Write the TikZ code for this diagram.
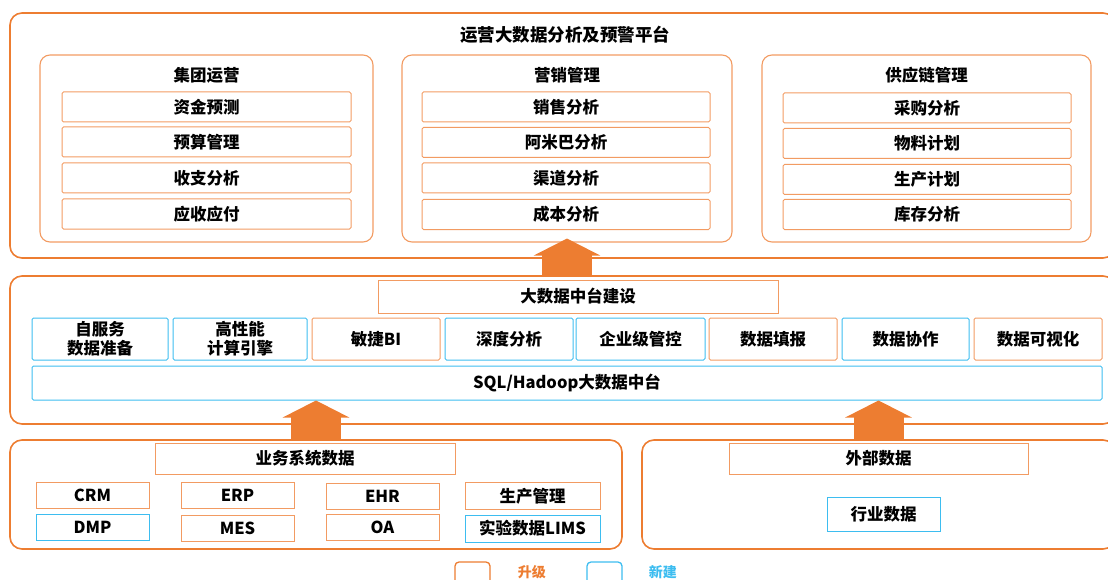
\documentclass[tikz,border=0pt]{standalone}
\usepackage{fontspec}
\setmainfont{Noto Sans CJK SC}
\usepackage{xcolor}
\usepackage{tikz}
\usetikzlibrary{arrows.meta, positioning, calc}
\definecolor{hborange}{HTML}{ED7D31}
\definecolor{lorange}{HTML}{F29B62}
\definecolor{nblue}{HTML}{3DBDF0}

\tikzset{
    layer/.style={draw=hborange, line width=1.6pt, rounded corners=12pt, inner sep=0pt},
    groupbox/.style={draw=lorange, line width=1.1pt, rounded corners=10pt, inner sep=0pt},
    obox/.style={draw=lorange, line width=1pt, rounded corners=1.5pt, inner sep=0pt,
        align=center, font=\bfseries\fontsize{16.5}{19}\selectfont},
    nbox/.style={obox, draw=nblue},
    heading/.style={font=\bfseries\fontsize{16.5}{19}\selectfont, inner sep=0pt},
    fatup/.style={draw=hborange, line width=50pt, -{Triangle[length=17pt, width=66pt, fill=hborange]}}
}

\begin{document}
\begin{tikzpicture}[x=1pt, y=-1pt]
    \clip (0,0) rectangle (1108,580);

    \node[layer, minimum width=1105, minimum height=245] (platform) at (562.5,135.5) {};
    \node[heading, font=\bfseries\fontsize{17.5}{20}\selectfont] (ptitle) at (565,35) {运营大数据分析及预警平台};

    \node[groupbox, minimum width=333, minimum height=187] (gjt) at (206.5,148.5) {};
    \node[groupbox, minimum width=330, minimum height=187] (gyx) at (567,148.5) {};
    \node[groupbox, minimum width=329, minimum height=187] (ggy) at (926.5,148.5) {};

    \node[heading] (hjt) at (206.5,75) {集团运营};
    \node[heading] (hyx) at (567,75) {营销管理};
    \node[heading] (hgy) at (926.5,75) {供应链管理};

    \node[obox, minimum width=289, minimum height=30] (zjyc) at (206.5,107) {资金预测};
    \node[obox, minimum width=289, minimum height=30] (ysgl) at (206.5,142) {预算管理};
    \node[obox, minimum width=289, minimum height=30] (szfx) at (206.5,178) {收支分析};
    \node[obox, minimum width=289, minimum height=30] (yscf) at (206.5,214) {应收应付};

    \node[obox, minimum width=288, minimum height=30] (xsfx) at (566,107) {销售分析};
    \node[obox, minimum width=288, minimum height=30] (ambfx) at (566,142.5) {阿米巴分析};
    \node[obox, minimum width=288, minimum height=30] (qdfx) at (566,178) {渠道分析};
    \node[obox, minimum width=288, minimum height=30] (cbfx) at (566,214.5) {成本分析};

    \node[obox, minimum width=288, minimum height=30] (cgfx) at (927,108) {采购分析};
    \node[obox, minimum width=288, minimum height=30] (wljh) at (927,143.5) {物料计划};
    \node[obox, minimum width=288, minimum height=30] (scjh) at (927,179.5) {生产计划};
    \node[obox, minimum width=288, minimum height=30] (kcfx) at (927,214.5) {库存分析};

    \node[layer, minimum width=1105, minimum height=148] (midlayer) at (562.5,350) {};
    \node[obox, rounded corners=0pt, minimum width=400, minimum height=33] (zt) at (578,296.5) {大数据中台建设};

    \node[nbox, minimum width=136, minimum height=42] (zfw) at (100,339) {自服务\\数据准备};
    \node[nbox, minimum width=134, minimum height=42] (gxn) at (240,339) {高性能\\计算引擎};
    \node[obox, minimum width=128, minimum height=42] (mjbi) at (376,339) {敏捷BI};
    \node[nbox, minimum width=128, minimum height=42] (sdfx) at (509,339) {深度分析};
    \node[nbox, minimum width=129, minimum height=42] (qyjgk) at (640.5,339) {企业级管控};
    \node[obox, minimum width=128, minimum height=42] (sjtb) at (773,339) {数据填报};
    \node[nbox, minimum width=127, minimum height=42] (sjxz) at (905.5,339) {数据协作};
    \node[obox, minimum width=128, minimum height=42] (sjksh) at (1038,339) {数据可视化};

    \node[nbox, minimum width=1070, minimum height=34] (sql) at (567,383) {SQL/Hadoop大数据中台};

    \node[layer, minimum width=612, minimum height=109] (bizdata) at (316,494.5) {};
    \node[layer, minimum width=473, minimum height=109] (extdata) at (878.5,494.5) {};

    \node[obox, rounded corners=0pt, minimum width=300, minimum height=31] (ywxt) at (305,458.5) {业务系统数据};
    \node[obox, rounded corners=0pt, minimum width=299, minimum height=31] (wbsj) at (878.5,458.5) {外部数据};

    \node[obox, rounded corners=0pt, minimum width=113, minimum height=26] (crm) at (92.5,495) {CRM};
    \node[obox, rounded corners=0pt, minimum width=113, minimum height=26] (erp) at (237.5,495) {ERP};
    \node[obox, rounded corners=0pt, minimum width=113, minimum height=26] (ehr) at (382.5,496) {EHR};
    \node[obox, rounded corners=0pt, minimum width=135, minimum height=27] (scgl) at (532.5,496) {生产管理};
    \node[nbox, rounded corners=0pt, minimum width=113, minimum height=26] (dmp) at (92.5,527) {DMP};
    \node[obox, rounded corners=0pt, minimum width=113, minimum height=26] (mes) at (237.5,528) {MES};
    \node[obox, rounded corners=0pt, minimum width=113, minimum height=26] (oa) at (382.5,527) {OA};
    \node[nbox, rounded corners=0pt, minimum width=135, minimum height=27] (lims) at (532.5,528.5) {实验数据LIMS};

    \node[nbox, rounded corners=0pt, minimum width=113, minimum height=34] (hysj) at (883.5,514) {行业数据};

    \draw[fatup] (midlayer.north -| gyx.south) -- ($(gyx.south)+(0,-4)$);
    \draw[fatup] (bizdata.north) -- (bizdata.north |- sql.south);
    \draw[fatup] (extdata.north) -- (extdata.north |- sql.south);

    \node[obox, rounded corners=4pt, line width=1.3pt, draw=hborange, minimum width=35, minimum height=30] (lgup) at (472.5,577) {};
    \node[heading, text=hborange, font=\bfseries\fontsize{14}{16}\selectfont, right=27pt of lgup.east, anchor=west, yshift=5pt] (tup) {升级};
    \node[nbox, rounded corners=4pt, line width=1.3pt, minimum width=35, minimum height=30] (lgnew) at (604.5,577) {};
    \node[heading, text=nblue, font=\bfseries\fontsize{14}{16}\selectfont, right=26pt of lgnew.east, anchor=west, yshift=5pt] (tnew) {新建};
\end{tikzpicture}
\end{document}
